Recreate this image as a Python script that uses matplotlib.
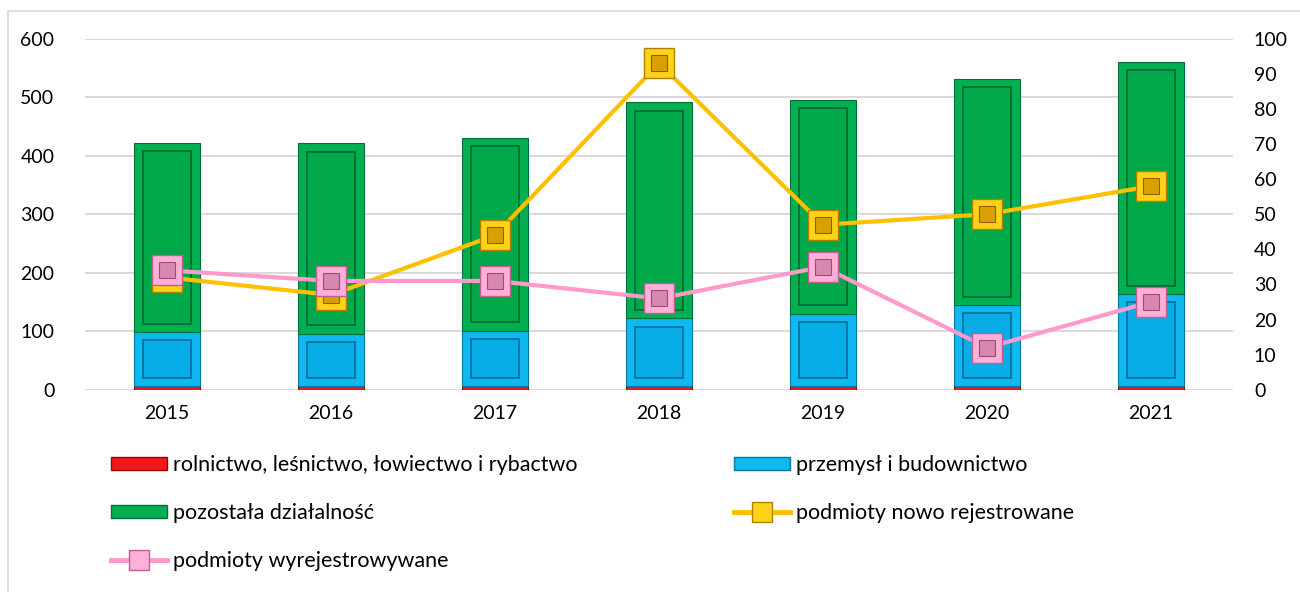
import numpy as np
import matplotlib.pyplot as plt
from matplotlib.patches import Rectangle, Patch
from matplotlib.lines import Line2D

plt.rcParams['font.family'] = ['Lato', 'DejaVu Sans']

years = ['2015', '2016', '2017', '2018', '2019', '2020', '2021']
rolnictwo = [6, 6, 6, 6, 6, 6, 6]
przemysl = [93, 90, 95, 116, 124, 139, 158]
pozostala = [323, 325, 329, 369, 365, 386, 396]
nowo_rej = [32, 27, 44, 93, 47, 50, 58]
wyrej = [34, 31, 31, 26, 35, 12, 25]

labels = ['rolnictwo, leśnictwo, łowiectwo i rybactwo', 'przemysł i budownictwo',
          'pozostała działalność', 'podmioty nowo rejestrowane', 'podmioty wyrejestrowywane']

red, red_d = '#F01818', '#A00000'
blue, blue_d = '#10B8F0', '#0078A8'
green, green_d = '#00B050', '#00703A'
yellow, yellow_d = '#FFC000', '#B08000'
pink, pink_d = '#FF9ACB', '#C06090'

fig = plt.figure(figsize=(13, 5.92), dpi=100)
fig.patches.append(Rectangle((8 / 1300, -0.1), 1.2, 1.1 - 11 / 592, transform=fig.transFigure,
                             fill=False, edgecolor='#D9D9D9', linewidth=1.2))
ax = fig.add_axes([0.0654, 0.3417, 0.8831, 0.5929])
x = np.arange(len(years))
w = 0.4

r = np.array(rolnictwo)
b = np.array(przemysl)
g = np.array(pozostala)

ax.bar(x, r, w, color=red, edgecolor=red_d, linewidth=0.8, zorder=3)
ax.bar(x, b, w, bottom=r, color=blue, edgecolor=blue_d, linewidth=0.8, zorder=3)
ax.bar(x, g, w, bottom=r + b, color=green, edgecolor=green_d, linewidth=0.8, zorder=3)
# inner panels for the bevel look
ins = 14
ax.bar(x, b - 2 * ins, w * 0.72, bottom=r + ins, color='#08ACE6', edgecolor=blue_d, linewidth=1.4, zorder=3)
ax.bar(x, g - 2 * ins, w * 0.72, bottom=r + b + ins, color='#00A84A', edgecolor=green_d, linewidth=1.4, zorder=3)

ax.set_xlim(-0.5, 6.5)
ax.set_ylim(0, 600)
ax.set_yticks(range(0, 601, 100))
ax.set_xticks(x)
ax.set_xticklabels(years)
ax.grid(axis='y', color='#D9D9D9', linewidth=1.4, zorder=0)
ax.set_axisbelow(True)
for s in ax.spines.values():
    s.set_visible(False)
ax.tick_params(length=0, labelsize=14, pad=11)
ax.tick_params(axis='y', pad=22)

ax2 = ax.twinx()
ax2.set_ylim(0, 100)
ax2.set_yticks(range(0, 101, 10))
for s in ax2.spines.values():
    s.set_visible(False)
ax2.tick_params(length=0, labelsize=14, pad=15)

ax2.plot(x, nowo_rej, color=yellow, linewidth=3, marker='s', markersize=22,
         markerfacecolor='#FFD21A', markeredgecolor=yellow_d, markeredgewidth=1, zorder=4)
ax2.plot(x, nowo_rej, linestyle='none', marker='s', markersize=11,
         markerfacecolor='#D9A000', markeredgecolor='#8A6400', markeredgewidth=0.8, zorder=4)
ax2.plot(x, wyrej, color=pink, linewidth=3, marker='s', markersize=22,
         markerfacecolor='#FFB0D8', markeredgecolor=pink_d, markeredgewidth=1, zorder=5)
ax2.plot(x, wyrej, linestyle='none', marker='s', markersize=11,
         markerfacecolor='#D888B0', markeredgecolor='#985070', markeredgewidth=0.8, zorder=5)

h_red = Patch(facecolor=red, edgecolor=red_d)
h_blue = Patch(facecolor=blue, edgecolor=blue_d)
h_green = Patch(facecolor=green, edgecolor=green_d)
h_yel = Line2D([], [], color=yellow, linewidth=3.5, marker='s', markersize=15,
               markerfacecolor='#FFD21A', markeredgecolor=yellow_d)
h_pink = Line2D([], [], color=pink, linewidth=3.5, marker='s', markersize=15,
                markerfacecolor='#FFB0D8', markeredgecolor=pink_d)

fig.legend([h_red, h_green, h_pink, h_blue, h_yel],
           [labels[0], labels[2], labels[4], labels[1], labels[3]],
           ncol=2, loc='upper left', bbox_to_anchor=(92 / 1300, 1 - 436 / 592),
           frameon=False, fontsize=15.5, handlelength=2.6, handleheight=0.55,
           handletextpad=0.25, labelspacing=1.3, columnspacing=7.3)

fig.savefig('out.png', dpi=100)
